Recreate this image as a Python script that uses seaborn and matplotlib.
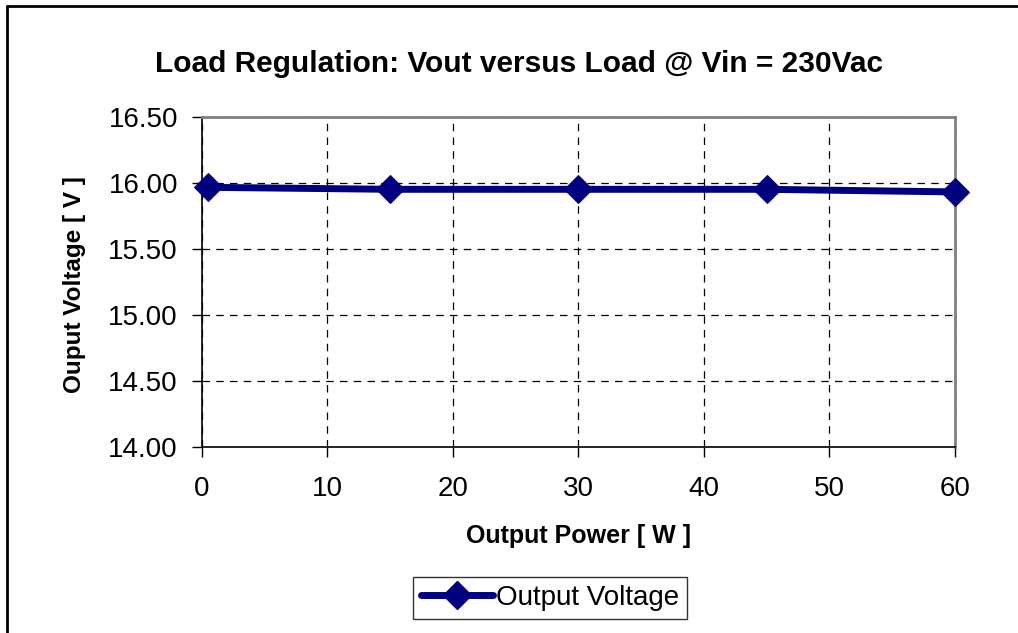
import pandas as pd
import matplotlib.pyplot as plt
import seaborn as sns
from matplotlib.lines import Line2D

# data
output_power = [0.5, 15, 30, 45, 60]
output_voltage = [15.965, 15.95, 15.95, 15.95, 15.93]
x_ticks = [0, 10, 20, 30, 40, 50, 60]
y_ticks = [14.0, 14.5, 15.0, 15.5, 16.0, 16.5]

df = pd.DataFrame({'Output Power': output_power, 'Output Voltage': output_voltage})

sns.set_style('white')
plt.rcParams['font.family'] = ['Liberation Sans', 'DejaVu Sans']
plt.rcParams['text.color'] = 'black'
plt.rcParams['xtick.color'] = 'black'
plt.rcParams['ytick.color'] = 'black'

W, H = 1018, 633
fig = plt.figure(figsize=(W / 100, H / 100), dpi=100)
ax = fig.add_axes([201.5 / W, (H - 446.7) / H, (955 - 201.5) / W, (446.7 - 116.7) / H])

navy = '#000080'
sns.lineplot(data=df, x='Output Power', y='Output Voltage', ax=ax, color=navy,
             linewidth=5, marker='D', markersize=14, markeredgecolor=navy,
             label='Output Voltage', legend=False, clip_on=False, zorder=5)

ax.set_xlim(0, 60)
ax.set_ylim(14, 16.5)
ax.set_xticks(x_ticks)
ax.set_yticks(y_ticks)
ax.set_yticklabels([f'{v:.2f}' for v in y_ticks])
ax.tick_params(labelsize=20, direction='out', length=7, width=1, color='black',
               labelcolor='black', left=True, bottom=True)
ax.tick_params(axis='x', pad=14)
ax.tick_params(axis='y', pad=10)
ax.grid(True, color='black', linestyle=(0, (6, 5)), linewidth=0.9)
for side in ['left', 'bottom']:
    ax.spines[side].set_color('black')
    ax.spines[side].set_linewidth(1.2)
for side in ['top', 'right']:
    ax.spines[side].set_color('#808080')
    ax.spines[side].set_linewidth(2)
ax.set_xlabel('')
ax.set_ylabel('')

fig.text(519 / W, 1 - 64 / H, 'Load Regulation: Vout versus Load @ Vin = 230Vac',
         ha='center', va='center', fontsize=21.5, fontweight='bold')
fig.text(578 / W, 1 - 536 / H, 'Output Power [ W ]', ha='center', va='center',
         fontsize=18, fontweight='bold')
fig.text(75 / W, 1 - 285 / H, 'Ouput Voltage [ V ]', ha='center', va='center',
         fontsize=17.5, fontweight='bold', rotation=90)

handle = Line2D([], [], color=navy, linewidth=5, marker='D', markersize=14)
fig.legend([handle], ['Output Voltage'], loc='center', bbox_to_anchor=(550 / W, 1 - 598 / H),
           fontsize=20, frameon=True, fancybox=False, edgecolor='black',
           handlelength=2.6, handletextpad=0.1, borderpad=0.3, borderaxespad=0)

# outer chart border (left and top only visible)
fig.add_artist(Line2D([7 / W, 7 / W], [0, 1 - 6 / H], color='black', linewidth=2))
fig.add_artist(Line2D([7 / W, 1], [1 - 6 / H, 1 - 6 / H], color='black', linewidth=2))

fig.savefig('out.png', dpi=100)
